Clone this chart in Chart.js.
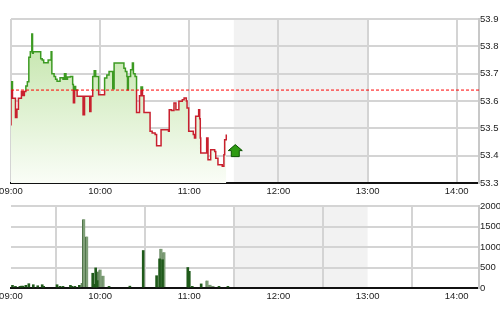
<!DOCTYPE html>
<html>
<head>
<meta charset="utf-8">
<script src="https://cdn.jsdelivr.net/npm/chart.js@4.4.0/dist/chart.umd.min.js"></script>
<style>
html, body { margin: 0; padding: 0; background: #fff; }
#top { position: absolute; left: 0; top: 0; }
#bot { position: absolute; left: 0; top: 198px; }
</style>
</head>
<body>
<canvas id="top" width="500" height="200"></canvas>
<canvas id="bot" width="500" height="114"></canvas>
<script>
// minutes after 09:00
const hourTicks = [0, 60, 120, 180, 240, 300];
const hourLabels = ['09:00', '10:00', '11:00', '12:00', '13:00', '14:00'];
const sessionEnd = 315;
const lunchBreak = [150, 240];

const priceTicks = [53.3, 53.4, 53.5, 53.6, 53.7, 53.8, 53.9];
const prevClose = 53.64;

const priceTimes = [0, 0, 1, 3, 4, 5, 7, 8, 9, 10, 11, 12, 13, 14, 14.5, 15, 19, 20, 21, 22,
  25, 27, 27.5, 29, 30, 31, 33, 35, 36, 37, 38, 40, 41.5, 42, 42.8, 43.5, 44.5, 48.5, 49.5, 53,
  53.8, 55, 56, 57, 59, 63, 64.5, 66, 68.5, 69.4, 76, 77, 78, 78.4, 79, 80.5, 81.7, 82.4, 83.5, 84.5,
  86.5, 87.5, 88.5, 89.5, 93.6, 95, 97, 98, 101, 106, 106.5, 108, 109.7, 111, 113, 115.3, 116.5, 118, 118.5, 119.6,
  122.7, 123.5, 124.3, 126.3, 127, 127.4, 127.7, 131.7, 132.6, 134.4, 137.1, 137.8, 139.3, 142.2, 143.3, 143.8, 144.9];
const prices = [53.51, 53.67, 53.61, 53.54, 53.57, 53.61, 53.635, 53.62, 53.635, 53.655,
  53.67, 53.76, 53.78, 53.845, 53.775, 53.78, 53.78, 53.755, 53.75, 53.74,
  53.75, 53.78, 53.70, 53.69, 53.68, 53.672, 53.685, 53.68, 53.70, 53.68,
  53.688, 53.69, 53.66, 53.594, 53.653, 53.64, 53.617, 53.55, 53.617, 53.562,
  53.617, 53.69, 53.711, 53.69, 53.623, 53.684, 53.695, 53.708, 53.645, 53.739,
  53.72, 53.708, 53.69, 53.641, 53.69, 53.714, 53.739, 53.70, 53.69, 53.558,
  53.619, 53.651, 53.619, 53.558, 53.489, 53.483, 53.477, 53.436, 53.495, 53.489,
  53.568, 53.565, 53.593, 53.568, 53.599, 53.605, 53.611, 53.60, 53.574, 53.489,
  53.477, 53.465, 53.544, 53.568, 53.535, 53.465, 53.41, 53.465, 53.385, 53.422,
  53.415, 53.391, 53.367, 53.361, 53.403, 53.458, 53.477];

const volTicks = [0, 500, 1000, 1500, 2000];
const volUpTimes = [1, 3, 6, 7, 8, 10, 12, 15, 18, 21, 22, 31, 33, 35, 40, 41, 43, 46, 55, 56, 57, 58, 66, 80,
  89, 98, 100, 102, 119, 120, 122, 128, 140, 146];
const volUp = [65, 40, 40, 45, 45, 65, 105, 80, 55, 80, 40, 80, 40, 40, 65, 40, 40, 65, 360, 90, 490, 180, 40, 45,
  914, 300, 710, 690, 500, 407, 40, 100, 40, 40];
const volDownTimes = [48, 49, 51, 59, 60, 62, 101, 103, 132, 134, 136];
const volDown = [120, 1674, 1257, 400, 450, 300, 955, 873, 180, 80, 50];

const fontFamily = "'Liberation Sans Narrow', Arial, sans-serif";
const tickFont = { family: fontFamily, size: 9.5 };
const gridColor = '#d4d4d4';

const lunchShade = {
  id: 'lunchShade',
  beforeDraw(chart) {
    const { ctx, chartArea, scales } = chart;
    const x0 = scales.x.getPixelForValue(lunchBreak[0]);
    const x1 = scales.x.getPixelForValue(lunchBreak[1]);
    ctx.save();
    ctx.fillStyle = '#f2f2f2';
    ctx.fillRect(x0, chartArea.top, x1 - x0, chartArea.bottom - chartArea.top);
    ctx.restore();
  }
};

const lastArrow = {
  id: 'lastArrow',
  afterDatasetsDraw(chart) {
    const meta = chart.getDatasetMeta(1);
    const pt = meta.data[meta.data.length - 1];
    const ctx = chart.ctx;
    const cx = pt.x + 9, cy = pt.y + 17;
    ctx.save();
    ctx.beginPath();
    ctx.moveTo(cx, cy - 7);
    ctx.lineTo(cx + 7, cy - 1);
    ctx.lineTo(cx + 4, cy - 1);
    ctx.lineTo(cx + 4, cy + 5);
    ctx.lineTo(cx - 4, cy + 5);
    ctx.lineTo(cx - 4, cy - 1);
    ctx.lineTo(cx - 7, cy - 1);
    ctx.closePath();
    ctx.fillStyle = '#2e9a12';
    ctx.fill();
    ctx.lineWidth = 1;
    ctx.strokeStyle = '#0b5200';
    ctx.stroke();
    ctx.restore();
  }
};

function xScale(height) {
  return {
    type: 'linear',
    min: 0,
    max: sessionEnd,
    offset: false,
    afterBuildTicks: s => { s.ticks = hourTicks.map(v => ({ value: v })); },
    afterFit: s => { s.height = height; s.paddingLeft = 0; s.paddingRight = 0; },
    ticks: {
      font: tickFont,
      color: '#222',
      padding: 3,
      maxRotation: 0,
      autoSkip: false,
      callback: v => hourLabels[hourTicks.indexOf(v)]
    },
    grid: { color: gridColor, lineWidth: 2, drawTicks: false },
    border: { color: '#111', width: 2 }
  };
}

function yScale(ticks, min, max, fmt) {
  return {
    type: 'linear',
    position: 'right',
    min: min,
    max: max,
    afterBuildTicks: s => { s.ticks = ticks.map(v => ({ value: v })); },
    afterFit: s => { s.width = 21; },
    ticks: { font: tickFont, color: '#222', padding: 1, callback: fmt },
    grid: {
      color: c => (c.tick && c.tick.value === min) ? 'rgba(0,0,0,0)' : gridColor,
      lineWidth: 2,
      drawTicks: false
    },
    border: { color: '#c8c8c8', width: 2 }
  };
}

new Chart(document.getElementById('top'), {
  type: 'line',
  data: {
    datasets: [{
      data: [{ x: 0, y: prevClose }, { x: sessionEnd, y: prevClose }],
      borderColor: '#ff0000',
      borderWidth: 1,
      borderDash: [3, 2],
      pointRadius: 0,
      fill: false
    }, {
      data: priceTimes.map((t, i) => ({ x: t, y: prices[i] })),
      stepped: true,
      borderWidth: 1.5,
      pointRadius: 0,
      fill: 'start',
      borderColor: function(context) {
        const chart = context.chart;
        const area = chart.chartArea;
        if (!area) return '#c41e2a';
        const yRef = chart.scales.y.getPixelForValue(prevClose);
        const s = Math.min(1, Math.max(0, (yRef - area.top) / (area.bottom - area.top)));
        const g = chart.ctx.createLinearGradient(0, area.top, 0, area.bottom);
        g.addColorStop(0, '#3c9a22');
        g.addColorStop(s, '#3c9a22');
        g.addColorStop(s, '#c8202e');
        g.addColorStop(1, '#c8202e');
        return g;
      },
      backgroundColor: function(context) {
        const chart = context.chart;
        const area = chart.chartArea;
        if (!area) return 'rgba(200,230,180,0.6)';
        const g = chart.ctx.createLinearGradient(0, area.top, 0, area.bottom);
        g.addColorStop(0, '#bde2a2');
        g.addColorStop(1, '#fafdf7');
        return g;
      }
    }]
  },
  options: {
    responsive: false,
    animation: false,
    layout: { padding: { left: 11, top: 19, right: 0, bottom: 0 } },
    plugins: { legend: { display: false }, tooltip: { enabled: false } },
    scales: {
      x: xScale(17),
      y: yScale(priceTicks, 53.3, 53.9, v => v.toFixed(1))
    }
  },
  plugins: [lunchShade, lastArrow]
});

new Chart(document.getElementById('bot'), {
  type: 'bar',
  data: {
    datasets: [{
      data: volUpTimes.map((t, i) => ({ x: t, y: volUp[i] })),
      backgroundColor: '#1f5a1a',
      barThickness: 2,
      grouped: false
    }, {
      data: volDownTimes.map((t, i) => ({ x: t, y: volDown[i] })),
      backgroundColor: '#7f9f78',
      borderColor: '#4f7448',
      borderWidth: { left: 1 },
      barThickness: 3,
      grouped: false
    }]
  },
  options: {
    responsive: false,
    animation: false,
    layout: { padding: { left: 11, top: 8, right: 0, bottom: 0 } },
    plugins: { legend: { display: false }, tooltip: { enabled: false } },
    scales: {
      x: xScale(24),
      y: yScale(volTicks, 0, 2000, v => String(v))
    }
  },
  plugins: [lunchShade]
});
</script>
</body>
</html>
